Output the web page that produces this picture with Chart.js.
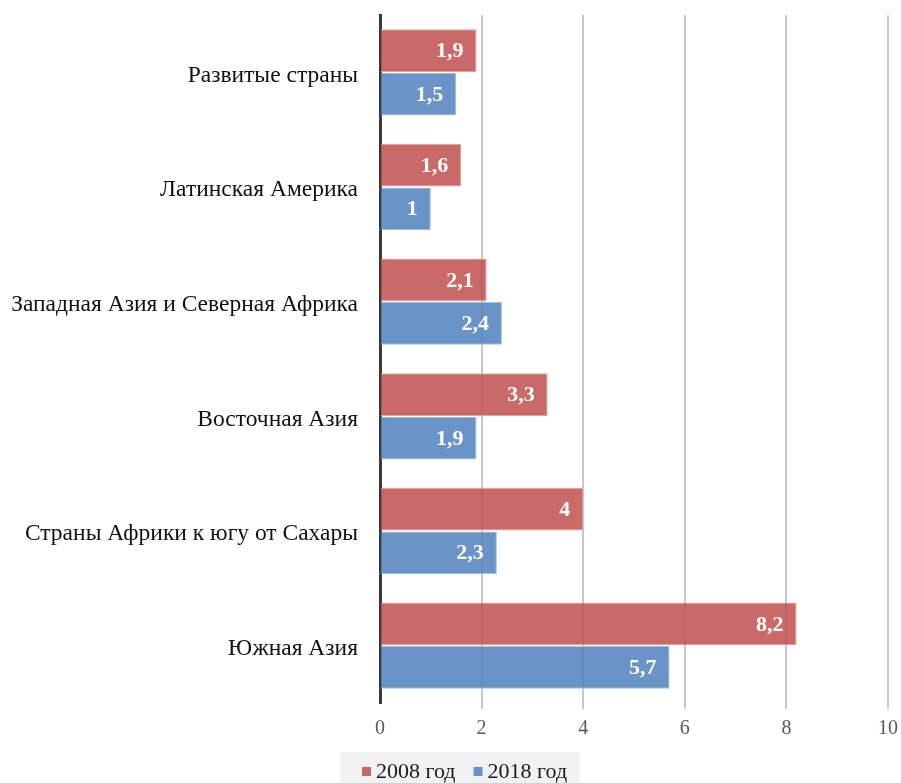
<!DOCTYPE html>
<html>
<head>
<meta charset="utf-8">
<script src="https://cdn.jsdelivr.net/npm/chart.js@4"></script>
<style>
  body { margin: 0; background: #fff; }
  #wrap { width: 901px; height: 783px; }
</style>
</head>
<body>
<div id="wrap"><canvas id="chartRegions"></canvas></div>
<script>
const regions = [
  'Развитые страны',
  'Латинская Америка',
  'Западная Азия и Северная Африка',
  'Восточная Азия',
  'Страны Африки к югу от Сахары',
  'Южная Азия'
];
const values2008 = [1.9, 1.6, 2.1, 3.3, 4, 8.2];
const values2018 = [1.5, 1, 2.4, 1.9, 2.3, 5.7];
const xTicks = [0, 2, 4, 6, 8, 10];

const serif = "'Liberation Serif', 'Times New Roman', serif";

// подписи значений внутри столбцов
const barLabels = {
  id: 'barLabels',
  afterDatasetsDraw(chart) {
    const ctx = chart.ctx;
    ctx.save();
    ctx.font = `bold 22px ${serif}`;
    ctx.fillStyle = '#ffffff';
    ctx.textAlign = 'right';
    ctx.textBaseline = 'middle';
    chart.data.datasets.forEach((ds, di) => {
      chart.getDatasetMeta(di).data.forEach((bar, i) => {
        let txt = ds.data[i].toLocaleString('ru-RU');
        ctx.fillText(txt, bar.x - 13, bar.y + 1);
      });
    });
    ctx.restore();
  }
};

// легенда снизу на сером фоне
const bottomLegend = {
  id: 'bottomLegend',
  afterDraw(chart) {
    const ctx = chart.ctx;
    ctx.save();
    ctx.fillStyle = '#f2f2f2';
    ctx.fillRect(340, 752, 240, chart.height - 752);
    ctx.font = `22px ${serif}`;
    ctx.textBaseline = 'middle';
    ctx.textAlign = 'left';
    let x = 362;
    chart.data.datasets.forEach(ds => {
      ctx.fillStyle = ds.backgroundColor;
      ctx.fillRect(x, 767, 9, 9);
      ctx.fillStyle = '#1a1a1a';
      ctx.fillText(ds.label, x + 14, 772);
      x += 14 + ctx.measureText(ds.label).width + 18;
    });
    ctx.restore();
  }
};

new Chart(document.getElementById('chartRegions'), {
  type: 'bar',
  plugins: [barLabels, bottomLegend],
  data: {
    labels: regions,
    datasets: [
      {
        label: '2008 год',
        data: values2008,
        backgroundColor: 'rgba(192,80,77,0.85)',
        borderColor: 'rgba(230,160,158,1)',
        borderWidth: 1,
        categoryPercentage: 0.76,
        barPercentage: 0.98
      },
      {
        label: '2018 год',
        data: values2018,
        backgroundColor: 'rgba(79,129,189,0.85)',
        borderColor: 'rgba(160,190,225,1)',
        borderWidth: 1,
        categoryPercentage: 0.76,
        barPercentage: 0.98
      }
    ]
  },
  options: {
    indexAxis: 'y',
    responsive: true,
    maintainAspectRatio: false,
    animation: false,
    layout: { padding: { top: 15, right: 13, left: 0, bottom: 35 } },
    plugins: {
      tooltip: { enabled: false },
      legend: { display: false }
    },
    scales: {
      x: {
        min: 0,
        max: 10,
        afterBuildTicks(scale) {
          scale.ticks = xTicks.map(v => ({ value: v }));
        },
        afterFit(scale) {
          scale.height = 45;
          scale.paddingLeft = 0;
          scale.paddingRight = 0;
        },
        border: { display: false },
        grid: {
          color: ctx => ctx.tick && ctx.tick.value === 0 ? 'rgba(0,0,0,0)' : '#c8c8c8',
          lineWidth: 2,
          drawTicks: true,
          tickLength: 6
        },
        ticks: {
          color: '#595959',
          padding: 8,
          font: { family: serif, size: 20 }
        }
      },
      y: {
        afterFit(scale) {
          scale.width = 380;
          scale.paddingTop = 0;
          scale.paddingBottom = 0;
        },
        border: { color: '#3a3a3a', width: 3 },
        grid: { display: false },
        ticks: {
          color: '#111111',
          padding: 14,
          labelOffset: 3,
          font: { family: serif, size: 23.5 }
        }
      }
    }
  }
});
</script>
</body>
</html>
